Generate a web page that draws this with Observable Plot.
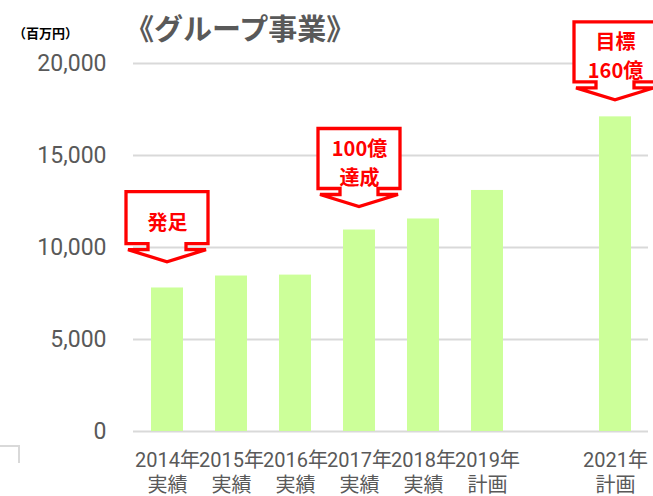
<!DOCTYPE html>
<html><head><meta charset="utf-8">
<script src="https://cdn.jsdelivr.net/npm/d3@7"></script>
<script src="https://cdn.jsdelivr.net/npm/@observablehq/plot@0.6"></script>
<style>
html,body{margin:0;padding:0;background:#fff;}
#wrap{position:relative;width:653px;height:496px;overflow:hidden;font-family:"Noto Sans CJK JP",sans-serif;}
#chart svg{display:block;}
#title{position:absolute;left:125px;top:9px;font-size:29px;font-weight:bold;color:#595959;white-space:nowrap;line-height:36px;}
#unit{position:absolute;left:13px;top:24px;font-size:13px;font-weight:bold;color:#000;white-space:nowrap;line-height:18px;}
#corner{position:absolute;left:-2px;top:445px;width:20px;height:16px;border-top:2px solid #d9d9d9;border-right:2px solid #d9d9d9;}
</style></head>
<body>
<div id="wrap"><div id="chart"></div><div id="title">《グループ事業》</div><div id="unit">（百万円）</div><div id="corner"></div></div>
<script>
// ---- data ----
const years  = ["2014年","2015年","2016年","2017年","2018年","2019年","","2021年"];
const kinds  = ["実績","実績","実績","実績","実績","計画","","計画"];
const values = [7800, 8450, 8500, 10950, 11550, 13100, null, 17100];
const yTicks = [0, 5000, 10000, 15000, 20000];
const calloutText = ["発足", "100億\n達成", "目標\n160億"];
const calloutSlot = [0, 3, 7];
const calloutTip  = [9200, 12200, 18000];

const bars = values.map((v, i) => ({slot: i, value: v})).filter(d => d.value != null);
const callouts = calloutText.map((t, i) => ({text: t, slot: calloutSlot[i], tip: calloutTip[i], lines: t.split("\n").length}));

// ---- callout geometry (pixels) ----
const HEAD = 12, NECK = 6, BOXW = 82, NECKHW = 19, WINGHW = 39;
const boxH = d => d.lines === 1 ? 52 : 60;

function calloutShapes(index, scales) {
  const g = d3.create("svg:g");
  const bw = typeof scales.x.bandwidth === "function" ? scales.x.bandwidth() : (scales.x.bandwidth || 0);
  for (const d of callouts) {
    const cx = scales.x(d.slot) + bw / 2;
    const ty = scales.y(d.tip);
    const bottom = ty - HEAD - NECK;
    const top = bottom - boxH(d);
    g.append("rect").attr("x", cx - BOXW / 2).attr("y", top).attr("width", BOXW).attr("height", boxH(d)).attr("fill", "#fff");
    const p = `M${cx - BOXW / 2},${top}H${cx + BOXW / 2}V${bottom}H${cx + NECKHW}V${bottom + NECK}H${cx + WINGHW}L${cx},${ty}L${cx - WINGHW},${bottom + NECK}H${cx - NECKHW}V${bottom}H${cx - BOXW / 2}Z`;
    g.append("path").attr("d", p).attr("fill", "none").attr("stroke", "#ff0000").attr("stroke-width", 3.3).attr("stroke-linejoin", "miter");
  }
  return g.node();
}

const plot = Plot.plot({
  width: 653,
  height: 496,
  marginLeft: 133,
  marginRight: 5,
  marginTop: 63,
  marginBottom: 65,
  style: {fontFamily: "Roboto, 'Noto Sans CJK JP', sans-serif", color: "#595959", background: "transparent"},
  x: {type: "band", domain: d3.range(years.length), paddingInner: 0.5, paddingOuter: 0.25, axis: null},
  y: {domain: [0, 20000], axis: null},
  marks: [
    Plot.ruleY(yTicks, {stroke: "#d9d9d9", strokeWidth: 2}),
    Plot.barY(bars, {x: "slot", y: "value", fill: "#ccff99"}),
    Plot.axisY({ticks: yTicks, tickSize: 0, tickPadding: 27, tickFormat: d3.format(","), fontSize: 23, fill: "#595959", label: null}),
    Plot.axisX({tickSize: 0, tickPadding: 17.5, tickFormat: i => years[i] ? years[i] + "\n" + kinds[i] : "", fontSize: 20, lineHeight: 1.25, fill: "#595959", label: null}),
    calloutShapes,
    ...callouts.map(d => Plot.text([d], {
      x: "slot", y: "tip", text: "text",
      dy: -(HEAD + NECK + boxH(d) / 2) + 2,
      lineAnchor: "middle", lineHeight: 1.45,
      fill: "#ff0000", fontWeight: "bold", fontSize: 20,
      fontFamily: "'Noto Sans CJK JP', sans-serif"
    }))
  ]
});
document.getElementById("chart").appendChild(plot);
</script>
</body></html>
